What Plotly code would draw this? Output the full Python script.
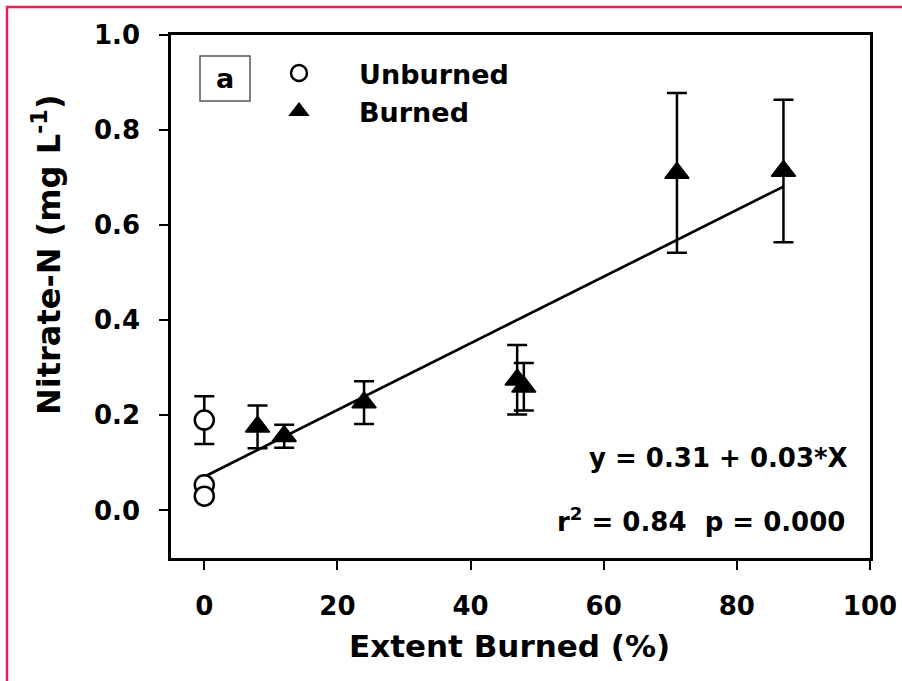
import numpy as np
import plotly.graph_objects as go

# ---- data -------------------------------------------------------------
unburned_x = [0, 0, 0]
unburned_y = [0.19, 0.054, 0.030]
unburned_err = [0.05, 0.0, 0.0]

burned_x = [8, 12, 24, 47, 48, 71, 87]
burned_y = [0.176, 0.156, 0.227, 0.275, 0.260, 0.710, 0.714]
burned_err = [0.045, 0.024, 0.045, 0.073, 0.050, 0.168, 0.150]

x_ticks = [0, 20, 40, 60, 80, 100]
y_ticks = [0.0, 0.2, 0.4, 0.6, 0.8, 1.0]

equation_text = "y = 0.31 + 0.03*X"
stats_text = "r<sup>2</sup> = 0.84\u00a0\u00a0p = 0.000"

# least-squares line through all sites
all_x = np.array(unburned_x + burned_x, dtype=float)
all_y = np.array(unburned_y + burned_y, dtype=float)
slope, intercept = np.polyfit(all_x, all_y, 1)
fit_x = np.array([0.0, max(burned_x)])
fit_y = intercept + slope * fit_x

# ---- layout geometry (pixels) -----------------------------------------
W, H = 902, 681
PL, PR, PT, PB = 171, 870, 35, 558


def px_x(px):
    return (px - PL) / (PR - PL)


def px_y(py):
    return (PB - py) / (PB - PT)


FONT = "DejaVu Sans"
BLACK = "#000000"

fig = go.Figure()

fig.add_trace(go.Scatter(
    x=fit_x, y=fit_y, mode="lines",
    line=dict(color=BLACK, width=2.7),
    showlegend=False, hoverinfo="skip",
))

fig.add_trace(go.Scatter(
    x=unburned_x, y=unburned_y, mode="markers", name="Unburned",
    marker=dict(symbol="circle", size=19, color="white",
                line=dict(color=BLACK, width=2.5)),
    error_y=dict(type="data", array=unburned_err, visible=True,
                 color=BLACK, thickness=2.5, width=10),
))

fig.add_trace(go.Scatter(
    x=burned_x, y=burned_y, mode="markers", name="Burned",
    marker=dict(symbol="triangle-up", size=21, color=BLACK,
                line=dict(color=BLACK, width=1.5)),
    error_y=dict(type="data", array=burned_err, visible=True,
                 color=BLACK, thickness=2.5, width=10),
))

axis_common = dict(
    showline=True, linecolor=BLACK, linewidth=2.5, mirror=True,
    ticks="outside", ticklen=9, tickwidth=2, tickcolor=BLACK,
    showgrid=False, zeroline=False, automargin=False,
    tickfont=dict(family=FONT, size=26, color=BLACK, weight="bold"),
)

fig.update_xaxes(range=[-5, 100], tickvals=x_ticks,
                 ticktext=[str(v) for v in x_ticks],
                 ticklabelstandoff=14, **axis_common)
fig.update_yaxes(range=[-0.1, 1.0], tickvals=y_ticks,
                 ticktext=[f"{v:.1f}" for v in y_ticks],
                 ticklabelstandoff=14, **axis_common)

annotations = [
    dict(text="Extent Burned (%)", x=px_x(509), y=px_y(646),
         xref="paper", yref="paper", xanchor="center", yanchor="middle",
         showarrow=False,
         font=dict(family=FONT, size=31, color=BLACK, weight="bold")),
    dict(text="Nitrate-N (mg L<sup>-1</sup>)", x=px_x(47), y=px_y(254),
         xref="paper", yref="paper", xanchor="center", yanchor="middle",
         textangle=-90, showarrow=False,
         font=dict(family=FONT, size=32, color=BLACK, weight="bold")),
    dict(text=equation_text, x=97, y=0.11, xref="x", yref="y",
         xanchor="right", yanchor="middle", showarrow=False,
         font=dict(family=FONT, size=26, color=BLACK, weight="bold")),
    dict(text=stats_text, x=96.5, y=-0.02, xref="x", yref="y",
         xanchor="right", yanchor="middle", showarrow=False,
         font=dict(family=FONT, size=26, color=BLACK, weight="bold")),
    dict(text="a", x=px_x(225), y=px_y(78), xref="paper", yref="paper",
         xanchor="center", yanchor="middle", showarrow=False,
         font=dict(family=FONT, size=27, color=BLACK, weight="bold")),
]

shapes = [
    # panel label box
    dict(type="rect", xref="paper", yref="paper",
         x0=px_x(200), x1=px_x(250), y0=px_y(56), y1=px_y(101),
         line=dict(color="#555555", width=1.5), fillcolor="rgba(0,0,0,0)"),
    # outer page frame
    dict(type="rect", xref="paper", yref="paper",
         x0=px_x(7), x1=px_x(W + 20), y0=px_y(H + 20), y1=px_y(7),
         line=dict(color="#e91e55", width=2.5), fillcolor="rgba(0,0,0,0)",
         layer="above"),
]

fig.update_layout(
    width=W, height=H,
    margin=dict(l=PL, r=W - PR, t=PT, b=H - PB, pad=0, autoexpand=False),
    paper_bgcolor="white", plot_bgcolor="white",
    font=dict(family=FONT, color=BLACK),
    showlegend=True,
    legend=dict(
        x=px_x(239), y=px_y(49), xanchor="left", yanchor="top",
        bgcolor="rgba(0,0,0,0)", borderwidth=0,
        itemwidth=110, tracegroupgap=0,
        font=dict(family=FONT, size=27, color=BLACK, weight="bold"),
    ),
    annotations=annotations,
    shapes=shapes,
)

fig.write_html("out.html")
